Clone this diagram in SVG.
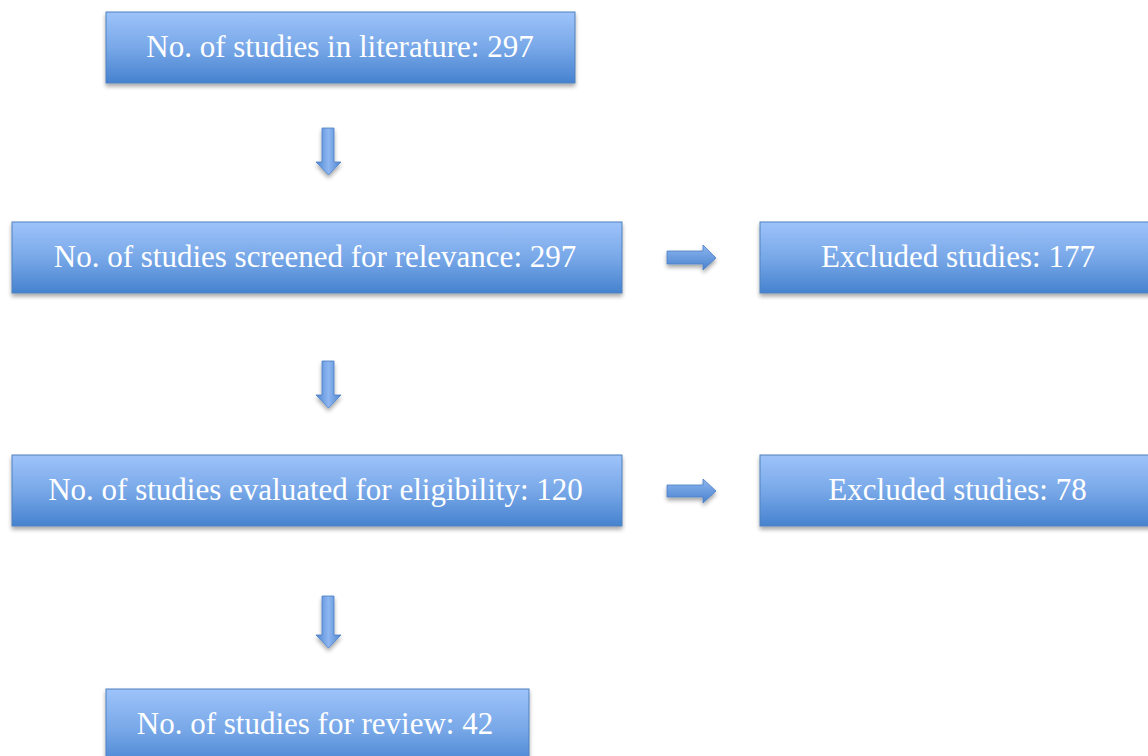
<svg xmlns="http://www.w3.org/2000/svg" width="1148" height="756" viewBox="0 0 1148 756">
<defs>
<linearGradient id="boxg" x1="0" y1="0" x2="0" y2="1">
<stop offset="0" stop-color="#9EC3FA"/>
<stop offset="0.5" stop-color="#78A8E8"/>
<stop offset="1" stop-color="#4682CF"/>
</linearGradient>
<linearGradient id="arrv" x1="0" y1="0" x2="1" y2="0">
<stop offset="0" stop-color="#4F86D2"/>
<stop offset="0.5" stop-color="#8DB6F0"/>
<stop offset="1" stop-color="#4F86D2"/>
</linearGradient>
<linearGradient id="arrh" x1="0" y1="0" x2="0" y2="1">
<stop offset="0" stop-color="#8DB6F0"/>
<stop offset="1" stop-color="#4A82CE"/>
</linearGradient>
<filter id="sh" x="-10%" y="-20%" width="120%" height="150%">
<feGaussianBlur in="SourceAlpha" stdDeviation="2"/>
<feOffset dx="0" dy="3" result="b"/>
<feComponentTransfer><feFuncA type="linear" slope="0.35"/></feComponentTransfer>
<feMerge><feMergeNode/><feMergeNode in="SourceGraphic"/></feMerge>
</filter>
<style>
.box{fill:url(#boxg);stroke:#4F81BD;stroke-width:1;filter:url(#sh)}
.t{font-family:'Times New Roman',Tinos,serif;font-size:31px;fill:#FFFFFF;text-anchor:middle}
.av{fill:url(#arrv);stroke:#4A7EC4;stroke-width:0.8;filter:url(#sh)}
.ah{fill:url(#arrh);stroke:#4A7EC4;stroke-width:0.8;filter:url(#sh)}
</style>
</defs>
<rect width="1148" height="756" fill="#FFFFFF"/>
<g id="connectors">
<path class="av" d="M322,128 H334 V162 H341 L328.5,175 L316,162 H322 Z"/>
<path class="av" d="M322,361 H334 V395 H341 L328.5,408 L316,395 H322 Z"/>
<path class="av" d="M322,596 H334 V635 H341 L328.5,648 L316,635 H322 Z"/>
<path class="ah" d="M667,251 H703 V245 L716,258 L703,270 V264 H667 Z"/>
<path class="ah" d="M667,485 H703 V479 L716,491 L703,503 V497 H667 Z"/>
</g>
<g id="n1"><rect class="box" x="106" y="12" width="469" height="71"/><text class="t" x="340" y="57">No. of studies in literature: 297</text></g>
<g id="n2"><rect class="box" x="12" y="222" width="610" height="71"/><text class="t" x="315" y="267">No. of studies screened for relevance: 297</text></g>
<g id="n3"><rect class="box" x="760" y="222" width="400" height="71"/><text class="t" x="958" y="267">Excluded studies: 177</text></g>
<g id="n4"><rect class="box" x="12" y="455" width="610" height="71"/><text class="t" x="315.5" y="500">No. of studies evaluated for eligibility: 120</text></g>
<g id="n5"><rect class="box" x="760" y="455" width="400" height="71"/><text class="t" x="957.5" y="500">Excluded studies: 78</text></g>
<g id="n6"><rect class="box" x="106" y="689" width="423" height="80"/><text class="t" x="315" y="734">No. of studies for review: 42</text></g>
</svg>
